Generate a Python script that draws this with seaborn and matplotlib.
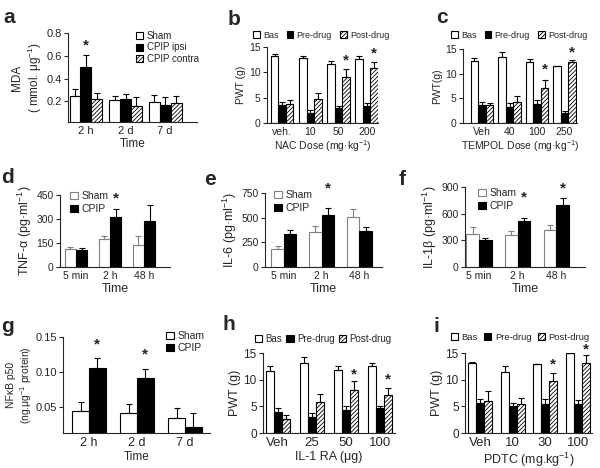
import numpy as np
import pandas as pd
import matplotlib
matplotlib.use("Agg")
import matplotlib.pyplot as plt
from matplotlib.container import BarContainer
import seaborn as sns

# ---- data (mean, upper error) ----
a_cats = ["2 h", "2 d", "7 d"]
a_groups = ["Sham", "CPIP ipsi", "CPIP contra"]
a_sham = [0.245, 0.208, 0.197]
a_sham_err = [0.064, 0.040, 0.056]
a_ipsi = [0.503, 0.220, 0.165]
a_ipsi_err = [0.103, 0.045, 0.070]
a_contra = [0.220, 0.160, 0.188]
a_contra_err = [0.050, 0.075, 0.056]

drug_groups = ["Bas", "Pre-drug", "Post-drug"]

b_cats = ["veh.", "10", "50", "200"]
b_bas = [13.2, 12.8, 11.7, 12.6]
b_bas_err = [0.35, 0.5, 0.6, 0.6]
b_pre = [3.5, 2.0, 3.0, 3.3]
b_pre_err = [0.55, 0.5, 0.45, 0.7]
b_post = [3.8, 4.7, 9.1, 10.8]
b_post_err = [0.8, 1.3, 1.6, 1.2]

c_cats = ["Veh", "40", "100", "250"]
c_bas = [12.6, 13.3, 12.4, 11.5]
c_bas_err = [0.5, 1.1, 0.5, 0.15]
c_pre = [3.7, 3.3, 3.8, 2.0]
c_pre_err = [0.6, 0.7, 0.8, 0.4]
c_post = [3.6, 4.3, 7.0, 12.3]
c_post_err = [0.5, 1.1, 1.8, 0.4]

cyto_cats = ["5 min", "2 h", "48 h"]
cyto_groups = ["Sham", "CPIP"]
d_sham = [110, 175, 135]
d_sham_err = [15, 20, 60]
d_cpip = [105, 315, 285]
d_cpip_err = [13, 50, 105]

e_sham = [180, 350, 510]
e_sham_err = [30, 70, 80]
e_cpip = [330, 530, 365]
e_cpip_err = [50, 70, 45]

f_sham = [375, 360, 420]
f_sham_err = [75, 40, 50]
f_cpip = [305, 515, 695]
f_cpip_err = [25, 35, 80]

g_cats = ["2 h", "2 d", "7 d"]
g_sham = [0.045, 0.042, 0.034]
g_sham_err = [0.012, 0.013, 0.014]
g_cpip = [0.106, 0.091, 0.021]
g_cpip_err = [0.014, 0.014, 0.020]

h_cats = ["Veh", "25", "50", "100"]
h_bas = [11.6, 13.1, 11.9, 12.6]
h_bas_err = [1.0, 1.1, 0.7, 0.5]
h_pre = [3.9, 3.0, 4.4, 4.7]
h_pre_err = [0.7, 0.7, 0.7, 0.3]
h_post = [2.7, 5.8, 8.1, 7.2]
h_post_err = [0.6, 1.6, 1.6, 1.3]

i_cats = ["Veh", "10", "30", "100"]
i_bas = [13.2, 11.5, 13.0, 15.0]
i_bas_err = [0.2, 1.0, 0.0, 0.0]
i_pre = [5.6, 5.0, 5.4, 5.5]
i_pre_err = [0.7, 0.7, 1.0, 0.6]
i_post = [6.0, 5.4, 9.7, 13.2]
i_post_err = [1.8, 1.1, 1.5, 1.4]

# ---- style ----
sns.set_style("ticks")
plt.rcParams["font.family"] = ["Liberation Sans", "DejaVu Sans"]
plt.rcParams["mathtext.fontset"] = "custom"
plt.rcParams["mathtext.rm"] = "Liberation Sans"
plt.rcParams["mathtext.it"] = "Liberation Sans:italic"
plt.rcParams["hatch.linewidth"] = 0.6

W, H = 600, 468
fig = plt.figure(figsize=(6, 4.68), dpi=100)


def add_ax(left, right, top, bottom):
    return fig.add_axes([left / W, 1 - bottom / H, (right - left) / W, (bottom - top) / H])


def bars_of(ax):
    return [c for c in ax.containers if isinstance(c, BarContainer)]


def bar_panel(ax, cats, groups, means, errs, faces, hatches, edges, width,
              xlim, ylim, yticks, ylabel, xlabel, tick_fs, lab_fs, xt_fs=None, ylab_fs=None):
    rows = [(c, g, m) for g, ms in zip(groups, means) for c, m in zip(cats, ms)]
    df = pd.DataFrame(rows, columns=["cat", "grp", "val"])
    sns.barplot(data=df, x="cat", y="val", hue="grp", order=cats, hue_order=groups,
                palette=faces, saturation=1, width=width, gap=0, errorbar=None,
                legend=False, edgecolor="black", linewidth=0.8, ax=ax)
    for cont, hatch, edge, err in zip(bars_of(ax), hatches, edges, errs):
        xs, ys = [], []
        for p in cont:
            p.set_hatch(hatch)
            p.set_edgecolor(edge)
            xs.append(p.get_x() + p.get_width() / 2)
            ys.append(p.get_height())
        ax.errorbar(xs, ys, yerr=[np.zeros(len(err)), err], fmt="none", ecolor=edge,
                    elinewidth=0.8, capsize=2.2, capthick=0.8, zorder=1)
    ax.set_xlim(*xlim)
    ax.set_ylim(*ylim)
    ax.set_yticks(yticks)
    ax.set_ylabel(ylabel, fontsize=ylab_fs or lab_fs, labelpad=2)
    ax.set_xlabel(xlabel, fontsize=lab_fs, labelpad=1)
    sns.despine(ax=ax)
    for s in ax.spines.values():
        s.set_linewidth(0.8)
    ax.tick_params(axis="x", length=0, labelsize=xt_fs or tick_fs, pad=3)
    ax.tick_params(axis="y", length=3, width=0.8, labelsize=tick_fs, pad=1.5)


def stars(ax, errs, marks):
    conts = bars_of(ax)
    for gi, ci, off in marks:
        p = conts[gi][ci]
        x = p.get_x() + p.get_width() / 2
        y = p.get_height() + errs[gi][ci]
        ax.annotate("*", (x, y), xytext=(0, off), textcoords="offset points",
                    ha="center", va="center", fontsize=11, fontweight="bold")


def legend(ax, labels, x, y, ncol, fs, loc, colsp=1.0, labsp=0.1):
    handles = [c.patches[0] for c in bars_of(ax)]
    ax.legend(handles, labels, loc=loc, bbox_to_anchor=(x / W, 1 - y / H),
              bbox_transform=fig.transFigure, frameon=False, ncol=ncol, fontsize=fs,
              handlelength=0.75, handleheight=0.75, handletextpad=0.35,
              columnspacing=colsp, labelspacing=labsp, borderpad=0, borderaxespad=0)


def letter(ch, x, y):
    fig.text(x / W, 1 - y / H, ch, fontsize=15, fontweight="bold", ha="center", va="baseline")


wbh = ["white", "black", "white"]
hat3 = ["", "", "////////"]
blk3 = ["black", "black", "black"]
wb = ["white", "black"]
hat2 = ["", ""]

# a
ax = add_ax(68, 197, 33, 122)
a_errs = [a_sham_err, a_ipsi_err, a_contra_err]
bar_panel(ax, a_cats, a_groups, [a_sham, a_ipsi, a_contra], a_errs, wbh, hat3, blk3, 0.82,
          (-0.45, 2.8), (0.018, 0.8), [0.2, 0.4, 0.6, 0.8],
          "MDA\n( mmol. μg$^{-1}$)", "Time", 8, 8.5)
stars(ax, a_errs, [(1, 0, 7)])
legend(ax, a_groups, 136, 31, 1, 7, "upper left", labsp=0.15)

# b
ax = add_ax(267, 378, 47, 123)
b_errs = [b_bas_err, b_pre_err, b_post_err]
bar_panel(ax, b_cats, drug_groups, [b_bas, b_pre, b_post], b_errs, wbh, hat3, blk3, 0.8,
          (-0.54, 3.4), (0, 15), [0, 5, 10, 15],
          "PWT (g)", "NAC Dose (mg·kg$^{-1}$)", 7.5, 7.5)
stars(ax, b_errs, [(2, 2, 6), (2, 3, 6)])
legend(ax, drug_groups, 253, 35, 3, 6.5, "center left", colsp=0.9)

# c
ax = add_ax(463, 577, 49, 123)
c_errs = [c_bas_err, c_pre_err, c_post_err]
bar_panel(ax, c_cats, drug_groups, [c_bas, c_pre, c_post], c_errs, wbh, hat3, blk3, 0.82,
          (-0.69, 3.45), (0, 15), [0, 5, 10, 15],
          "PWT(g)", "TEMPOL Dose (mg·kg$^{-1}$)", 7.5, 7.5)
stars(ax, c_errs, [(2, 2, 7), (2, 3, 6)])
legend(ax, drug_groups, 451, 35, 3, 6.5, "center left", colsp=0.9)

# d, e, f
cyto_edges = ["#808080", "black"]
cyto = [
    ("d", 60, 170, 195, 267, [d_sham, d_cpip], [d_sham_err, d_cpip_err], (-0.47, 2.76),
     (0, 450), [0, 150, 300, 450], "TNF-α (pg·ml$^{-1}$)", [(1, 1, 7)], 70, 191),
    ("e", 265, 382, 193, 267, [e_sham, e_cpip], [e_sham_err, e_cpip_err], (-0.5, 2.6),
     (0, 750), [0, 250, 500, 750], "IL-6 (pg·ml$^{-1}$)", [(1, 1, 14)], 274, 190),
    ("f", 465, 585, 187, 267, [f_sham, f_cpip], [f_sham_err, f_cpip_err], (-0.36, 2.74),
     (0, 900), [0, 300, 600, 900], "IL-1β (pg·ml$^{-1}$)", [(1, 1, 15), (1, 2, 7)], 478, 188),
]
for name, l, r, t, b, means, errs, xl, yl, yt, ylab, mk, lx, ly in cyto:
    ax = add_ax(l, r, t, b)
    bar_panel(ax, cyto_cats, cyto_groups, means, errs, wb, hat2, cyto_edges, 0.66,
              xl, yl, yt, ylab, "Time", 7.5, 9)
    stars(ax, errs, mk)
    legend(ax, cyto_groups, lx, ly, 1, 7.5, "upper left", labsp=0.3)

# g
ax = add_ax(63, 210, 337, 433)
g_errs = [g_sham_err, g_cpip_err]
bar_panel(ax, g_cats, cyto_groups, [g_sham, g_cpip], g_errs, wb, hat2, ["black", "black"], 0.69,
          (-0.54, 2.52), (0.013, 0.15), [0.05, 0.10, 0.15],
          "NFκB p50\n(ng.μg$^{-1}$ protein)", "Time", 8, 8.5, xt_fs=9, ylab_fs=7.5)
ax.set_yticklabels(["0.05", "0.10", "0.15"])
ax.yaxis.labelpad = 1
stars(ax, g_errs, [(1, 0, 10), (1, 1, 10)])
legend(ax, cyto_groups, 166, 331, 1, 7.5, "upper left", labsp=0.2)

# h
ax = add_ax(263, 395, 353, 433)
h_errs = [h_bas_err, h_pre_err, h_post_err]
bar_panel(ax, h_cats, drug_groups, [h_bas, h_pre, h_post], h_errs, wbh, hat3, blk3, 0.7,
          (-0.43, 3.43), (0, 15), [0, 5, 10, 15],
          "PWT (g)", "IL-1 RA (μg)", 8.5, 9, xt_fs=9.5)
stars(ax, h_errs, [(2, 2, 5), (2, 3, 6)])
legend(ax, drug_groups, 255, 339, 3, 7, "center left", colsp=0.4)

# i
ax = add_ax(465, 592, 353, 433)
i_errs = [i_bas_err, i_pre_err, i_post_err]
bar_panel(ax, i_cats, drug_groups, [i_bas, i_pre, i_post], i_errs, wbh, hat3, blk3, 0.73,
          (-0.46, 3.43), (0, 15), [0, 5, 10, 15],
          "PWT (g)", "PDTC (mg.kg$^{-1}$)", 8.5, 9, xt_fs=9.5)
stars(ax, i_errs, [(2, 2, 6), (2, 3, 4)])
legend(ax, drug_groups, 451, 337, 3, 6.8, "center left", colsp=0.7)

for ch, x, y in [("a", 9, 23), ("b", 234, 25), ("c", 442, 23), ("d", 8, 183),
                 ("e", 210, 185), ("f", 402, 185), ("g", 8, 332), ("h", 229, 330),
                 ("i", 436, 332)]:
    letter(ch, x, y)

fig.savefig("out.png", dpi=100)
